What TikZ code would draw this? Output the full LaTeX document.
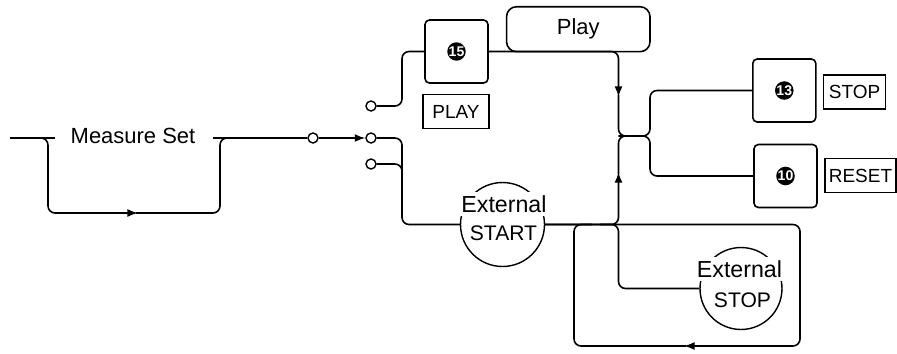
\documentclass[tikz,border=0pt]{standalone}
\usepackage{fontspec}
\setmainfont{Liberation Sans}
\usetikzlibrary{arrows.meta}

\begin{document}
\begin{tikzpicture}[x=0.02cm, y=-0.02cm,
    wire/.style={line width=0.9pt, rounded corners=4pt},
    flowtip/.style={-{Latex[length=6pt,width=4.5pt]}},
    terminal/.style={circle, draw, line width=0.8pt, fill=white, inner sep=0pt, minimum size=0.2cm},
    keybox/.style={draw, line width=0.9pt, rounded corners=2.5pt, minimum width=1.26cm, minimum height=1.26cm, inner sep=0pt},
    keynum/.style={circle, fill=black, text=white, inner sep=0pt, minimum size=0.36cm, font=\fontsize{8}{8}\selectfont\bfseries},
    keyname/.style={draw, line width=1pt, minimum height=0.68cm, inner sep=1pt, font=\fontsize{10.8}{12}\selectfont},
    extcircle/.style={circle, draw, line width=0.8pt, inner sep=0pt},
    exttop/.style={fill=white, inner sep=2pt, anchor=base, font=\fontsize{13.2}{15}\selectfont},
    extbottom/.style={inner sep=1pt, anchor=base, font=\fontsize{12}{14}\selectfont},
    bigtext/.style={font=\fontsize{12.5}{14}\selectfont}]
    \useasboundingbox (0,0) rectangle (897,353);

    % Measure Set
    \node[bigtext, anchor=base] (MSet) at (133,143) {Measure Set};
    \coordinate (In) at (10,138);

    % Terminals
    \node[terminal] (T1) at (313,138) {};
    \node[terminal] (T2) at (371,138) {};
    \node[terminal] (T3) at (371,106) {};
    \node[terminal] (T4) at (371,164) {};

    % Keys and their names
    \node[keybox] (K15) at (456.5,51.5) {};
    \node[keynum] at (K15) {15};
    \node[keyname, minimum width=1.32cm] (PLAY) at (456,111.5) {PLAY};
    \node[keybox] (K13) at (784.3,90.5) {};
    \node[keynum] at (K13) {13};
    \node[keyname, minimum width=1.24cm] (STOP) at (854.5,92) {STOP};
    \node[keybox] (K10) at (785.5,176) {};
    \node[keynum] at (K10) {10};
    \node[keyname, minimum width=1.42cm] (RESET) at (860.5,175.5) {RESET};

    % Play state
    \node[draw, line width=0.9pt, rounded corners=0.2cm, minimum width=2.87cm, minimum height=0.9cm, bigtext] (Play) at (578.3,29.2) {Play};

    % External START and External STOP
    \node[extcircle, minimum size=1.68cm] (XStart) at (502.5,224.5) {};
    \node[exttop] at (504,212) {External};
    \node[extbottom] at (503.5,240) {START};
    \node[extcircle, minimum size=1.64cm] (XStop) at (741,288.5) {};
    \node[exttop] at (739.5,277) {External};
    \node[extbottom] at (742.5,307) {STOP};

    % Junctions
    \coordinate (J) at (618.5,136);
    \coordinate (S) at (618.5,224.5);

    % Draw Measure Set loop
    \draw[wire] (In) -- (55,138);
    \draw[wire, flowtip] (36,138) -- (48,138) -- (48,213) -- (138,213);
    \draw[wire] (136,213) -- (220,213) -- (220,138) -- (232,138);
    \draw[wire] (213,138) -- (T1);
    \draw[wire, flowtip] (T1) -- (T2);

    % Draw lines from the terminals
    \draw[wire] (T3.east) -- (402,106) |- (K15.west);
    \draw[wire] (T2.east) -| (402,190) |- (XStart.west);
    \draw[wire] (T4.east) -| (402,190);

    % Draw lines into the junction
    \draw[wire, flowtip] (K15.east) -| (618.5,97);
    \draw[wire] (618.5,95) -- (J) -- (634,136);
    \draw[wire, flowtip] (XStart.east) -- (S) -- (618.5,172);
    \draw[wire] (618.5,174) -- (J) -- (634,136);
    \draw[wire] (J) -| (650,110) |- (K13.west);
    \draw[wire] (J) -| (650,160) |- (K10.west);

    % Draw External STOP branch and return loop
    \draw[wire] (600,224.5) -- (S) |- (XStop.west);
    \draw[wire, flowtip] (XStart.east) -- (800,224.5) -- (800,346) -- (684,346);
    \draw[wire] (686,346) -- (574,346) -- (574,224.5) -- (592,224.5);

\end{tikzpicture}
\end{document}
